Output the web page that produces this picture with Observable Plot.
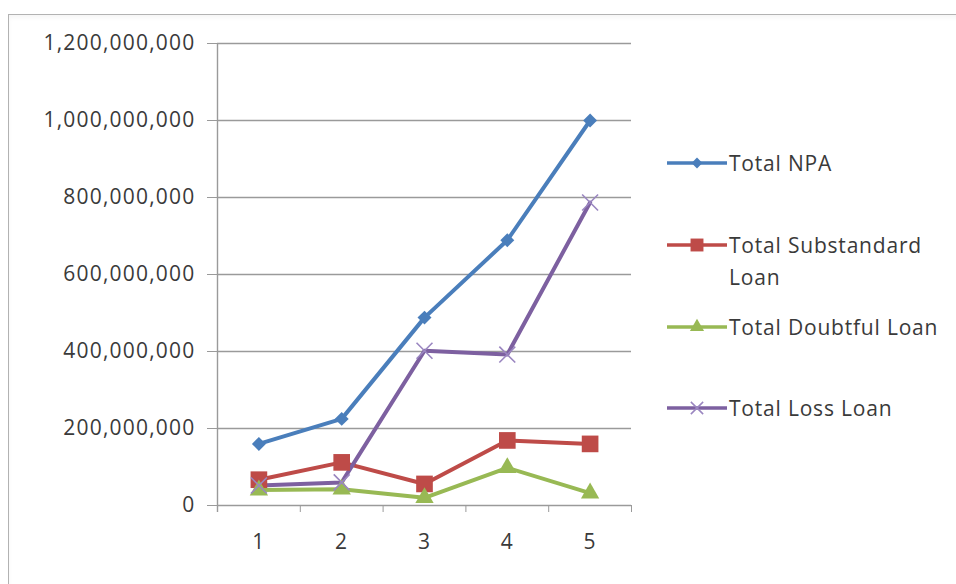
<!DOCTYPE html>
<html>
<head>
<meta charset="utf-8">
<script src="https://cdn.jsdelivr.net/npm/d3@7"></script>
<script src="https://cdn.jsdelivr.net/npm/@observablehq/plot@0.6"></script>
<style>
  html, body { margin: 0; padding: 0; background: #fff; overflow: hidden; width: 956px; height: 584px; }
  #wrap { position: relative; width: 956px; height: 584px; font-family: "Open Sans", sans-serif; }
  #frame { position: absolute; left: 8px; top: 14px; width: 1200px; height: 800px;
           border: 1.5px solid #b2b2b2; box-shadow: inset 0 3px 4px rgba(0,0,0,0.04); }
  #chart { position: absolute; left: 0; top: 0; }
  .entry { position: absolute; left: 666px; height: 32px; }
  .entry svg { position: absolute; left: 0; top: 0; }
  .entry span { position: absolute; left: 63px; top: 0; font-size: 21px; line-height: 32px;
                color: #3a3a3a; letter-spacing: 0.8px; white-space: nowrap; }
</style>
</head>
<body>
<div id="wrap">
  <div id="frame"></div>
  <div id="chart"></div>
  <div id="legend"></div>
</div>
<script>
// Periods on the horizontal axis
const periods = [1, 2, 3, 4, 5];

// Series values per period
const totalNPA         = [160e6, 225e6, 488e6, 689e6, 1000e6];
const totalSubstandard = [67e6, 112e6, 56e6, 169e6, 160e6];
const totalDoubtful    = [40e6, 42e6, 20e6, 98e6, 32e6];
const totalLoss        = [52e6, 60e6, 402e6, 392e6, 787e6];

// Vertical axis ticks
const yTicks = [0, 200e6, 400e6, 600e6, 800e6, 1000e6, 1200e6];

// Series names, colours and marker shapes
const seriesNames = ["Total NPA", "Total Substandard Loan", "Total Doubtful Loan", "Total Loss Loan"];
const seriesValues = [totalNPA, totalSubstandard, totalDoubtful, totalLoss];
const seriesColors = ["#4a7ebb", "#be4b48", "#98b954", "#7d60a0"];
const seriesSymbols = ["diamond2", "square", "triangle", "times"];
const seriesRadius = [6.3, 9.4, 6.8, 7.3];

const rows = seriesNames.flatMap((name, s) =>
  periods.map((p, i) => ({series: name, period: p, value: seriesValues[s][i]}))
);

// Category boundaries for the small x-axis ticks
const boundaries = [...periods.map(p => p - 0.5), periods[periods.length - 1] + 0.5];

const gridColor = "#9a9a9a";
const textColor = "#3a3a3a";

const marks = [
  Plot.gridY(yTicks, {stroke: gridColor, strokeOpacity: 1, strokeWidth: 1.4}),
  Plot.ruleX([boundaries[0]], {stroke: gridColor, strokeWidth: 1.4, insetBottom: -7}),
  Plot.axisY(yTicks, {
    tickSize: 10, tickPadding: 12, tickFormat: d3.format(","),
    stroke: gridColor, fill: textColor, label: null
  }),
  Plot.axisX(boundaries, {tickSize: 7, tickFormat: () => "", stroke: gridColor, label: null}),
  Plot.axisX(periods, {tickSize: 0, tickPadding: 29, tickFormat: d => String(d), fill: textColor, label: null}),
  Plot.line(rows, {
    x: "period", y: "value", z: "series", stroke: "series",
    strokeWidth: 4, strokeLinejoin: "round", strokeLinecap: "round"
  })
];

seriesNames.forEach((name, s) => {
  const data = rows.filter(d => d.series === name);
  if (seriesSymbols[s] === "times") {
    marks.push(Plot.dot(data, {x: "period", y: "value", symbol: "times", r: seriesRadius[s],
      stroke: "#9a86c0", strokeWidth: 1.6, fill: "none"}));
  } else {
    marks.push(Plot.dot(data, {x: "period", y: "value", symbol: seriesSymbols[s], r: seriesRadius[s],
      fill: seriesColors[s], stroke: "none"}));
  }
});

const chart = Plot.plot({
  width: 956,
  height: 584,
  marginLeft: 217,
  marginRight: 325,
  marginTop: 43,
  marginBottom: 79,
  style: {background: "transparent", fontFamily: "'Open Sans', sans-serif", fontSize: "21px", letterSpacing: "1.2px", color: textColor},
  x: {type: "linear", domain: [0.5, 5.5], label: null},
  y: {domain: [0, 1.2e9], label: null},
  color: {domain: seriesNames, range: seriesColors},
  marks
});
document.getElementById("chart").appendChild(chart);

// Legend on the right, one entry per series
const legendTops = [147, 229, 311, 392];
const legend = document.getElementById("legend");
seriesNames.forEach((name, s) => {
  const entry = document.createElement("div");
  entry.className = "entry";
  entry.style.top = legendTops[s] + "px";
  const sw = d3.create("svg").attr("width", 62).attr("height", 32);
  sw.append("line").attr("x1", 1).attr("x2", 61).attr("y1", 16).attr("y2", 16)
    .attr("stroke", seriesColors[s]).attr("stroke-width", 3.5);
  const size = Math.PI * seriesRadius[s] * seriesRadius[s] * 0.6;
  const symbolType = {diamond2: d3.symbolDiamond2, square: d3.symbolSquare,
                      triangle: d3.symbolTriangle, times: d3.symbolTimes}[seriesSymbols[s]];
  const path = sw.append("path").attr("transform", "translate(31,16)")
    .attr("d", d3.symbol(symbolType, size)());
  if (seriesSymbols[s] === "times") path.attr("fill", "none").attr("stroke", "#9a86c0").attr("stroke-width", 1.5);
  else path.attr("fill", seriesColors[s]);
  entry.appendChild(sw.node());
  const label = document.createElement("span");
  if (name === "Total Substandard Loan") label.innerHTML = "Total Substandard<br>Loan";
  else label.textContent = name;
  entry.appendChild(label);
  legend.appendChild(entry);
});
</script>
</body>
</html>
